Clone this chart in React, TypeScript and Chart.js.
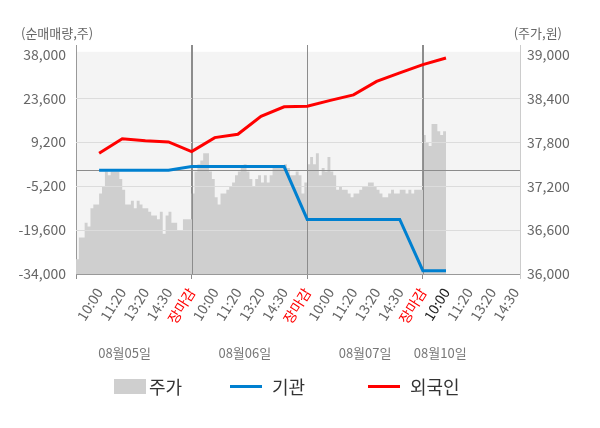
import { useEffect, useRef } from "react";
import { Chart, registerables } from "chart.js";

Chart.register(...registerables);

const FONT = '"Noto Sans CJK KR", "Noto Sans", sans-serif';

// x-axis labels, one per release time (units 1..19 on the x scale)
const xLabels = [
  "10:00", "11:20", "13:20", "14:30", "장마감",
  "10:00", "11:20", "13:20", "14:30", "장마감",
  "10:00", "11:20", "13:20", "14:30", "장마감",
  "10:00", "11:20", "13:20", "14:30",
];
const dates = ["08월05일", "08월06일", "08월07일", "08월10일"];

const leftTicks = [38000, 23600, 9200, -5200, -19600, -34000];
const rightTicks = [39000, 38400, 37800, 37200, 36600, 36000];

// net buying (shares) at each release time, from day-1 10:00 on
const institution = [
  0, 0, 0, 0, 1200,
  1200, 1200, 1200, 1200, -16100,
  -16100, -16100, -16100, -16100, -32900,
  -32900,
];
const foreign = [
  5600, 10300, 9700, 9300, 6100,
  10700, 11800, 17700, 20800, 21000,
  22900, 24700, 29100, 31900, 34600,
  36800,
];

// stock price, 8 samples per label interval
const price = [
  36200, 36500, 36500, 36700, 36650, 36900, 36950, 36950, 37100, 37200,
  37400, 37350, 37400, 37400, 37400, 37300, 37150, 36950, 36950, 37000,
  36900, 37000, 36950, 36900, 36900, 36850, 36800, 36800, 36750, 36850,
  36550, 36800, 36850, 36700, 36700, 36600, 36600, 36750, 36750, 36750,
  37100, 37400, 37500, 37550, 37650, 37650, 37400, 37300, 37050, 36950,
  37100, 37100, 37150, 37200, 37250, 37350, 37400, 37450, 37500, 37400,
  37300, 37200, 37300, 37350, 37250, 37350, 37250, 37350, 37450, 37450,
  37450, 37450, 37500, 37450, 37350, 37350, 37400, 37350, 37100, 37250,
  37500, 37600, 37500, 37650, 37350, 37450, 37400, 37600, 37400, 37350,
  37150, 37200, 37150, 37150, 37100, 37050, 37100, 37100, 37150, 37200,
  37200, 37250, 37250, 37200, 37150, 37100, 37050, 37050, 37100, 37150,
  37100, 37100, 37150, 37150, 37100, 37150, 37100, 37150, 37150, 37150,
  37900, 37800, 37750, 38050, 38050, 37950, 37900, 37950, 37950,
];

const SAMPLES_PER_LABEL = 8;
const X_MAX = 19.2;
const DAY_BREAKS = [5, 10, 15];
const DATE_AT = [2.1, 7.3, 12.5, 15.75];

const GRID = "#dcdcdc";
const DARK = "#8c8c8c";

const legendLayout = [
  { label: "주가", color: "#cfcfcf", box: true, left: 114 },
  { label: "기관", color: "#0080d0", box: false, left: 230 },
  { label: "외국인", color: "#ff0000", box: false, left: 368 },
];

const decor = {
  id: "decor",
  beforeDraw(chart: any) {
    const { ctx, chartArea: a, scales } = chart;
    const top = scales.y.getPixelForValue(leftTicks[0]) - 2.5;
    ctx.save();
    ctx.fillStyle = "#f4f4f4";
    ctx.fillRect(a.left, top, a.right - a.left, a.bottom - top);
    ctx.restore();
  },
  afterDatasetDraw(chart: any, args: any) {
    // grid lines show through the price area but stay under the lines
    if (args.index !== 0) return;
    const { ctx, chartArea: a, scales } = chart;
    ctx.save();
    ctx.lineWidth = 1;
    for (const v of leftTicks.slice(1, -1)) {
      const y = Math.round(scales.y.getPixelForValue(v)) + 0.5;
      ctx.strokeStyle = GRID;
      ctx.beginPath();
      ctx.moveTo(a.left, y);
      ctx.lineTo(a.right, y);
      ctx.stroke();
    }
    const y0 = Math.round(scales.y.getPixelForValue(0)) + 0.5;
    ctx.strokeStyle = DARK;
    ctx.beginPath();
    ctx.moveTo(a.left, y0);
    ctx.lineTo(a.right, y0);
    ctx.stroke();
    for (const d of DAY_BREAKS) {
      const x = Math.round(scales.x.getPixelForValue(d)) + 0.5;
      ctx.beginPath();
      ctx.moveTo(x, a.top);
      ctx.lineTo(x, a.bottom);
      ctx.stroke();
    }
    ctx.restore();
  },
  afterDraw(chart: any) {
    const { ctx, scales } = chart;
    ctx.save();
    ctx.font = `13px ${FONT}`;
    ctx.fillStyle = "#666";
    ctx.textBaseline = "middle";
    ctx.textAlign = "left";
    ctx.fillText("(순매매량,주)", 21, 33);
    ctx.textAlign = "right";
    ctx.fillText("(주가,원)", 562, 33);
    ctx.textAlign = "center";
    ctx.fillStyle = "#777";
    dates.forEach((d, i) => {
      ctx.fillText(d, scales.x.getPixelForValue(DATE_AT[i]), 353);
    });
    ctx.restore();
  },
};

export default function App() {
  const canvasRef = useRef<HTMLCanvasElement>(null);

  useEffect(() => {
    const ctx = canvasRef.current?.getContext("2d");
    if (!ctx) return;

    const priceData = price.map((v, i) => ({ x: i / SAMPLES_PER_LABEL, y: v }));
    const instData = institution.map((v, i) => ({ x: i + 1, y: v }));
    const foreignData = foreign.map((v, i) => ({ x: i + 1, y: v }));
    const tickFont = { family: FONT, size: 14 };

    const chart = new Chart(ctx, {
      type: "line",
      data: {
        datasets: [
          {
            label: "주가",
            data: priceData,
            yAxisID: "y1",
            fill: "start",
            backgroundColor: "#cfcfcf",
            borderColor: "rgba(0,0,0,0)",
            borderWidth: 0,
            pointRadius: 0,
            stepped: true,
            order: 3,
          },
          {
            label: "기관",
            data: instData,
            yAxisID: "y",
            borderColor: "#0080d0",
            borderWidth: 3,
            pointRadius: 0,
            fill: false,
            order: 1,
          },
          {
            label: "외국인",
            data: foreignData,
            yAxisID: "y",
            borderColor: "#ff0000",
            borderWidth: 3,
            pointRadius: 0,
            fill: false,
            order: 2,
          },
        ],
      },
      options: {
        animation: false,
        responsive: true,
        maintainAspectRatio: false,
        layout: { padding: { top: 45, bottom: 94, left: 0, right: 0 } },
        plugins: { legend: { display: false }, tooltip: { enabled: false } },
        scales: {
          x: {
            type: "linear",
            min: 0,
            max: X_MAX,
            afterBuildTicks: (s: any) => {
              const t = xLabels.map((_, i) => ({ value: i + 1 }));
              s.ticks = [{ value: 0 }, ...t, { value: X_MAX }];
            },
            afterFit: (s: any) => {
              s.height = 60;
            },
            ticks: {
              autoSkip: false,
              minRotation: 58,
              maxRotation: 58,
              padding: 6,
              font: tickFont,
              callback: (v: any) => xLabels[Number(v) - 1] ?? "",
              color: (c: any) => {
                const v = c.tick?.value;
                if (xLabels[v - 1] === "장마감") return "#ff0000";
                if (v === 16) return "#222";
                return "#666";
              },
            },
            grid: {
              tickLength: 5,
              color: (c: any) => {
                const v = c.tick?.value;
                if (v === 0 || DAY_BREAKS.includes(v)) return DARK;
                if (v === X_MAX) return "#cccccc";
                return "rgba(0,0,0,0)";
              },
            },
            border: { color: "#999" },
          },
          y: {
            position: "left",
            min: -34000,
            max: 41050,
            afterBuildTicks: (s: any) => {
              s.ticks = [...leftTicks, 0]
                .sort((a, b) => a - b)
                .map((v) => ({ value: v }));
            },
            afterFit: (s: any) => {
              s.width = 76;
            },
            ticks: {
              padding: 10,
              font: tickFont,
              color: "#666",
              callback: (v: any) =>
                Number(v) === 0 ? "" : Number(v).toLocaleString("en-US"),
            },
            grid: {
              drawTicks: false,
              color: (c: any) => {
                const v = c.tick?.value;
                if (v === 0) return DARK;
                if (v === leftTicks[0] || v === leftTicks[leftTicks.length - 1])
                  return "rgba(0,0,0,0)";
                return GRID;
              },
            },
            border: { color: "#999" },
          },
          y1: {
            position: "right",
            min: 36000,
            max: 39130,
            afterBuildTicks: (s: any) => {
              s.ticks = [...rightTicks].reverse().map((v) => ({ value: v }));
            },
            afterFit: (s: any) => {
              s.width = 80;
            },
            ticks: {
              padding: 7,
              font: tickFont,
              color: "#666",
              callback: (v: any) => Number(v).toLocaleString("en-US"),
            },
            grid: { display: false, drawTicks: false },
            border: { color: "#cccccc" },
          },
        },
      },
      plugins: [decor],
    });

    return () => {
      chart.destroy();
    };
  }, []);

  return (
    <div
      style={{
        position: "absolute",
        left: 0,
        top: 0,
        width: 600,
        height: 428,
        background: "#fff",
      }}
    >
      <canvas ref={canvasRef} />
      {legendLayout.map((it) => (
        <div
          key={it.label}
          style={{
            position: "absolute",
            left: it.left,
            top: 374,
            height: 24,
            display: "flex",
            alignItems: "center",
          }}
        >
          <span
            style={{
              display: "inline-block",
              width: 32,
              height: it.box ? 15 : 3,
              background: it.color,
              marginRight: it.box ? 3 : 10,
            }}
          />
          <span
            style={{
              font: `18px ${FONT}`,
              color: "#333",
              lineHeight: "24px",
            }}
          >
            {it.label}
          </span>
        </div>
      ))}
    </div>
  );
}
